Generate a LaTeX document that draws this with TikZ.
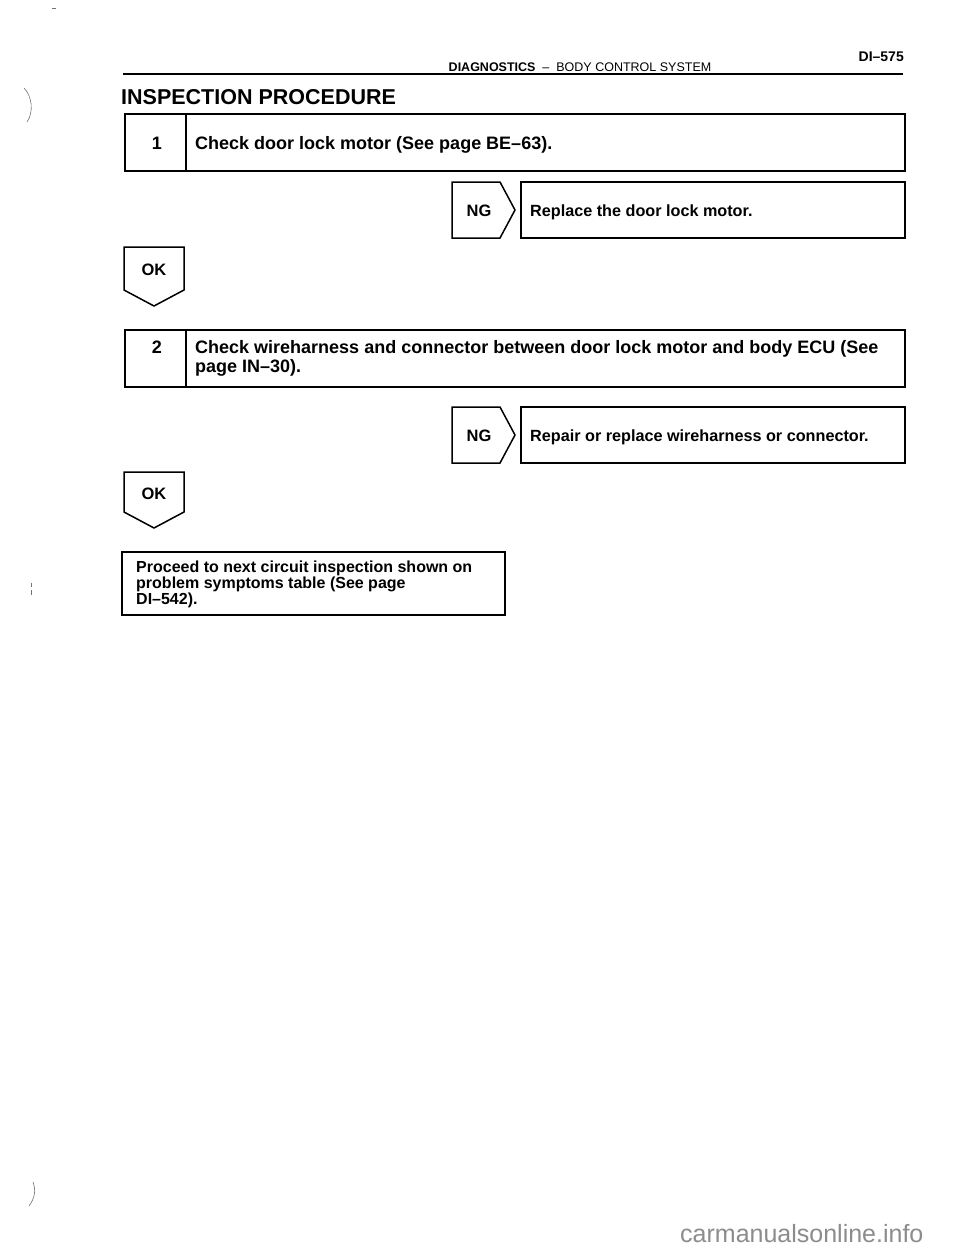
\documentclass[tikz,border=0pt]{standalone}
\usepackage{fontspec}
\setmainfont{Liberation Sans}
\begin{document}
\begin{tikzpicture}[x=1pt,y=-1pt,
  box/.style={draw, line width=1.7pt, anchor=north west, inner sep=0pt, outer sep=0pt},
  txt/.style={font=\bfseries\fontsize{18}{19}\selectfont, anchor=base west, inner sep=0pt},
  rtxt/.style={font=\bfseries\fontsize{16.2}{19}\selectfont, anchor=base west, inner sep=0pt},
  ftxt/.style={font=\bfseries\fontsize{16}{16}\selectfont, anchor=base west, inner sep=0pt},
  num/.style={font=\bfseries\fontsize{18}{19}\selectfont, anchor=base, inner sep=0pt},
  tagtxt/.style={font=\bfseries\fontsize{16.5}{18}\selectfont, inner sep=0pt},
  tag/.style={draw, line width=1.5pt, line join=miter},
  artifact/.style={draw=black!55, line width=0.6pt}
]
\useasboundingbox (0,0) rectangle (960,1250);
\fill[white] (0,0) rectangle (960,1250);

% header
\node[font=\bfseries\fontsize{14}{16}\selectfont, anchor=base east, inner sep=0pt] (pg) at (904,61) {DI--575};
\node[font=\fontsize{12.5}{14}\selectfont, anchor=base, inner sep=0pt] (hd) at (580,71) {\textbf{DIAGNOSTICS} \ -- \ BODY CONTROL SYSTEM};
\coordinate (rl) at (123,74);
\coordinate (rr) at (903,74);
\draw[line width=1.3pt] (rl) -- (rr);
\node[font=\bfseries\fontsize{21.5}{24}\selectfont, anchor=base west, inner sep=0pt] (title) at (121,104) {INSPECTION PROCEDURE};

% step 1
\node[box, minimum width=780pt, minimum height=57pt] (b1) at (125,114) {};
\coordinate (d1t) at (186,114);
\coordinate (d1b) at (186,171);
\draw[line width=1.7pt] (d1t) -- (d1b);
\node[num] (n1) at (157,149) {1};
\node[txt] (t1) at (195,149) {Check door lock motor (See page BE--63).};

% NG 1
\draw[tag] (452,182) -- (500,182) -- (515,210) -- (500,238) -- (452,238) -- cycle;
\node[tagtxt] (ng1) at (479,211) {NG};
\node[box, minimum width=384pt, minimum height=56pt] (r1) at (521,182) {};
\node[rtxt] (rt1) at (530,216) {Replace the door lock motor.};

% OK 1
\draw[tag] (124,247) -- (184,247) -- (184,290) -- (154,306) -- (124,290) -- cycle;
\node[tagtxt] (ok1) at (154,270) {OK};

% step 2
\node[box, minimum width=780pt, minimum height=57pt] (b2) at (125,330) {};
\coordinate (d2t) at (186,330);
\coordinate (d2b) at (186,387);
\draw[line width=1.7pt] (d2t) -- (d2b);
\node[num] (n2) at (157,353) {2};
\node[txt] (t2a) at (195,353) {Check wireharness and connector between door lock motor and body ECU (See};
\node[txt] (t2b) at (195,372) {page IN--30).};

% NG 2
\draw[tag] (452,407) -- (500,407) -- (515,435) -- (500,463) -- (452,463) -- cycle;
\node[tagtxt] (ng2) at (479,436) {NG};
\node[box, minimum width=384pt, minimum height=56pt] (r2) at (521,407) {};
\node[rtxt] (rt2) at (530,441) {Repair or replace wireharness or connector.};

% OK 2
\draw[tag] (124,472) -- (184,472) -- (184,512) -- (154,528) -- (124,512) -- cycle;
\node[tagtxt] (ok2) at (154,494) {OK};

% final
\node[box, minimum width=383pt, minimum height=63pt] (fin) at (122,552) {};
\node[ftxt] (ft1) at (136,572) {Proceed to next circuit inspection shown on};
\node[ftxt] (ft2) at (136,588) {problem symptoms table (See page};
\node[ftxt] (ft3) at (136,604) {DI--542).};

% scan marks
\draw[artifact] (24,88) .. controls (32,96) and (34,112) .. (27,122);
\draw[artifact] (33,1182) .. controls (36,1190) and (35,1198) .. (29,1206);
\draw[artifact] (52,8) -- (56,8);
\draw[artifact] (31,583) -- (31,587);
\draw[artifact] (31,590) -- (31,595);

% watermark
\node[font=\fontsize{25}{30}\selectfont, text=black!45, anchor=base west, inner sep=0pt] (wm) at (680,1242) {carmanualsonline.info};
\end{tikzpicture}
\end{document}
